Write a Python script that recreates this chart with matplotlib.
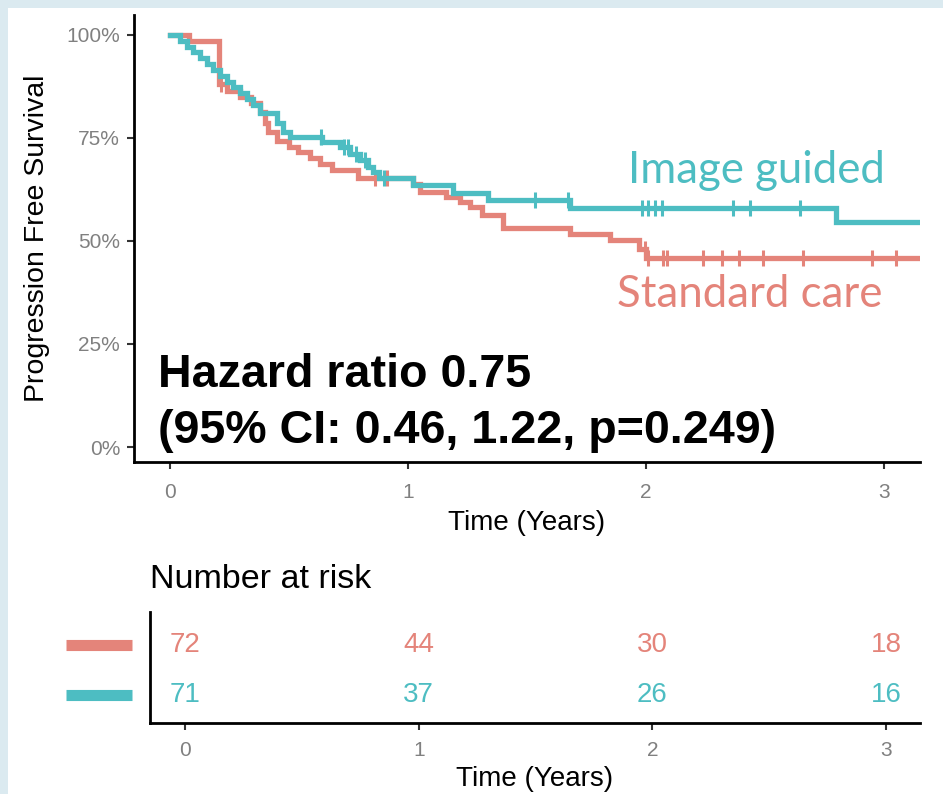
import numpy as np
import matplotlib
matplotlib.use("Agg")
import matplotlib.pyplot as plt
from matplotlib.patches import Rectangle

plt.rcParams['font.family'] = ['Liberation Sans', 'DejaVu Sans']

# Kaplan-Meier step data (time in years, survival in %)
std_time = [0, 0.08, 0.205, 0.24, 0.295, 0.34, 0.38, 0.40, 0.41, 0.45, 0.50, 0.54, 0.59, 0.63,
            0.68, 0.79, 1.02, 1.05, 1.16, 1.22, 1.26, 1.31, 1.40, 1.68, 1.85, 1.97, 2.0]
std_surv = [100, 98.6, 88.0, 86.4, 85.0, 83.5, 81.3, 78.6, 76.5, 74.2, 72.8, 71.6, 70.1, 68.7,
            67.2, 65.3, 63.8, 62.0, 60.7, 59.5, 58.3, 56.3, 53.2, 51.7, 50.2, 48.0, 45.9]
std_cens = [0.215, 0.86, 0.91, 1.995, 2.01, 2.07, 2.09, 2.24, 2.32, 2.39, 2.49, 2.66, 2.95, 3.05]

img_time = [0, 0.042, 0.071, 0.097, 0.126, 0.155, 0.181, 0.21, 0.24, 0.265, 0.294, 0.324, 0.35,
            0.378, 0.45, 0.475, 0.504, 0.64, 0.714, 0.756, 0.80, 0.83, 0.853, 0.88, 1.02, 1.19,
            1.336, 1.68, 2.80]
img_surv = [100, 98.6, 97.2, 95.8, 94.4, 93.0, 91.5, 90.1, 88.7, 87.3, 85.9, 84.5, 83.1,
            81.0, 78.6, 76.5, 75.2, 74.0, 72.8, 71.0, 69.7, 68.0, 66.8, 65.2, 63.6, 61.7,
            60.0, 58.0, 54.6]
img_cens = [0.635, 0.73, 0.75, 0.78, 0.82, 0.90, 1.534, 1.672, 1.983, 2.008, 2.038, 2.067,
            2.366, 2.437, 2.647]
end_time = 3.17

risk_times = [0, 1, 2, 3]
risk_std = [72, 44, 30, 18]
risk_img = [71, 37, 26, 16]

red = '#E4847A'
cyan = '#4DBDC2'
gray = '#808080'

fig = plt.figure(figsize=(9.43, 7.94), dpi=100)
fig.patch.set_facecolor('#dbeaf0')
fig.patches.append(Rectangle((8 / 943, 0), 1, 1 - 8 / 794, transform=fig.transFigure,
                             facecolor='white', edgecolor='none', zorder=-1))

ax = fig.add_axes([134 / 943, 1 - 462 / 794, 786 / 943, 447 / 794])
ax.set_facecolor('none')


def draw_curve(t, s, cens, color):
    t = list(t) + [end_time]
    s = np.array(list(s) + [s[-1]]) / 100
    ax.step(t, s, where='post', color=color, lw=3.8, solid_joinstyle='miter')
    idx = np.searchsorted(t, cens, side='right') - 1
    ax.plot(cens, s[idx], ls='none', marker='|', ms=11, mew=2.2, color=color)


draw_curve(std_time, std_surv, std_cens, red)
draw_curve(img_time, img_surv, img_cens, cyan)

ax.set_xlim(-0.151, 3.151)
ax.set_ylim(-0.0364, 1.0485)
ax.set_xticks([0, 1, 2, 3])
ax.set_yticks([0, 0.25, 0.5, 0.75, 1])
ax.set_yticklabels(['0%', '25%', '50%', '75%', '100%'])
for sp in ['top', 'right']:
    ax.spines[sp].set_visible(False)
for sp in ['left', 'bottom']:
    ax.spines[sp].set_linewidth(2)
ax.tick_params(length=5, width=1.5, color='#333333', labelcolor=gray, labelsize=15, pad=5)
ax.tick_params(axis='x', pad=10)
ax.set_xlabel('Time (Years)', fontsize=20, labelpad=6)
ax.set_ylabel('Progression Free Survival', fontsize=20.5, labelpad=12)

ax.text(1.924, 0.641, 'Image guided', color=cyan, fontsize=31.5, family=['Lato', 'DejaVu Sans'],
        ha='left', va='baseline')
ax.text(1.878, 0.340, 'Standard care', color=red, fontsize=31.5, family=['Lato', 'DejaVu Sans'],
        ha='left', va='baseline')
ax.text(-0.05, 0.146, 'Hazard ratio 0.75', fontsize=33.6, fontweight='bold', ha='left', va='baseline')
ax.text(-0.05, 0.010, '(95% CI: 0.46, 1.22, p=0.249)', fontsize=33.6, fontweight='bold',
        ha='left', va='baseline')

# number at risk table
rx = fig.add_axes([150 / 943, 1 - 723 / 794, 770 / 943, 111 / 794])
rx.set_facecolor('none')
rx.set_xlim(-0.150, 3.145)
rx.set_ylim(-0.56, 1.66)
for t, a, b in zip(risk_times, risk_std, risk_img):
    rx.text(t, 1, str(a), color=red, fontsize=20, ha='center', va='center')
    rx.text(t, 0, str(b), color=cyan, fontsize=20, ha='center', va='center')
rx.plot([-0.51, -0.225], [1, 1], color=red, lw=8, solid_capstyle='butt', clip_on=False)
rx.plot([-0.51, -0.225], [0, 0], color=cyan, lw=8, solid_capstyle='butt', clip_on=False)
rx.set_xticks(risk_times)
rx.set_yticks([])
for sp in ['top', 'right']:
    rx.spines[sp].set_visible(False)
for sp in ['left', 'bottom']:
    rx.spines[sp].set_linewidth(2)
rx.tick_params(length=5, width=1.5, color='#333333', labelcolor=gray, labelsize=15, pad=8)
rx.set_xlabel('Time (Years)', fontsize=20, labelpad=4)
fig.text(150 / 943, 1 - 580 / 794, 'Number at risk', fontsize=24.5, ha='left', va='center')

fig.savefig('out.png', dpi=100, facecolor=fig.get_facecolor())
